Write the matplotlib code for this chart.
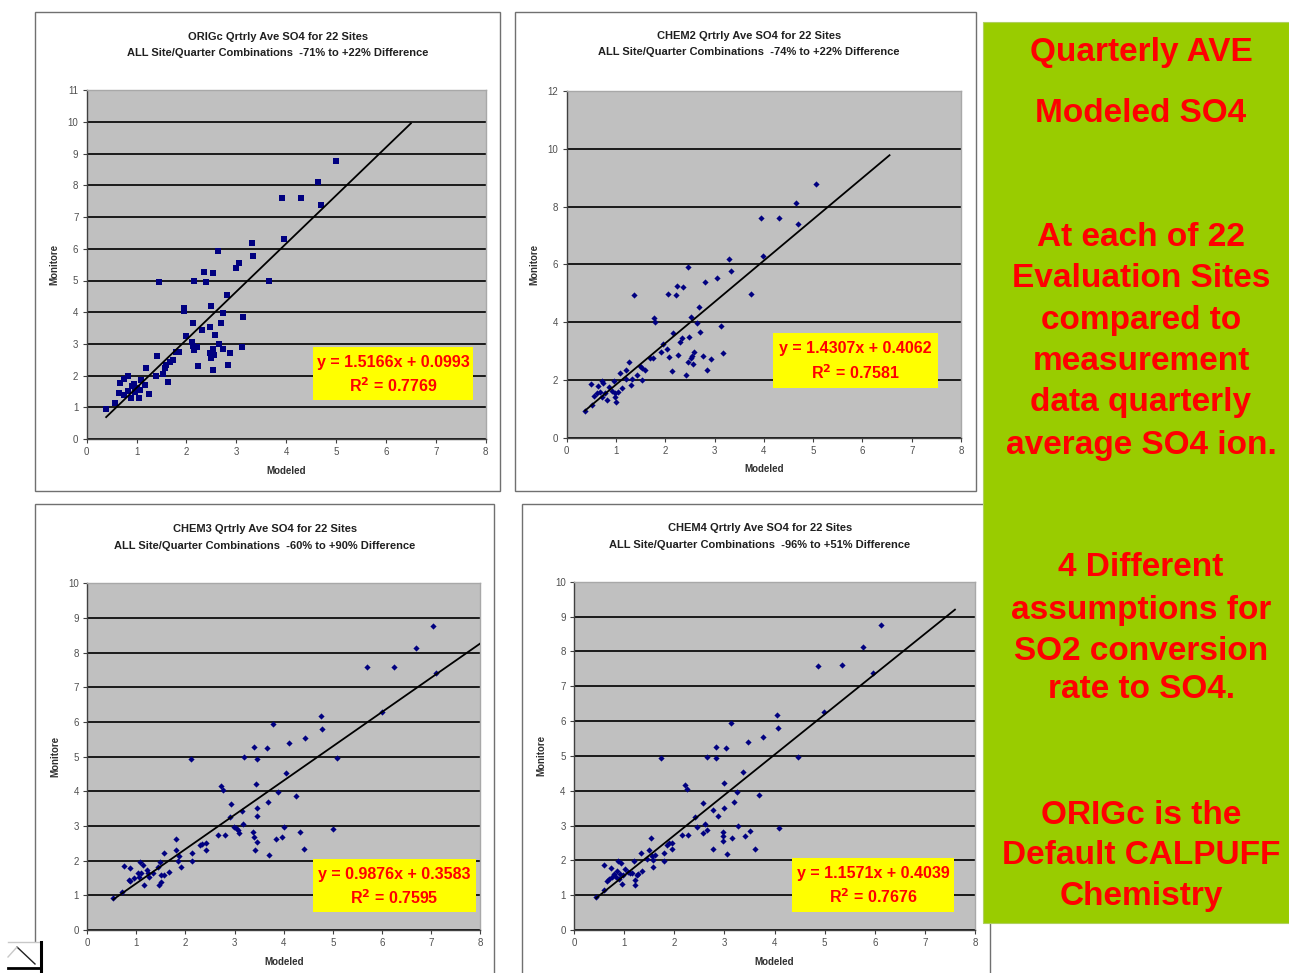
import matplotlib
matplotlib.use("Agg")
import matplotlib.pyplot as plt
from matplotlib.patches import Rectangle
from matplotlib.lines import Line2D
import numpy as np

plt.rcParams['font.family'] = ['Liberation Sans', 'DejaVu Sans']

# ---------------- data ----------------
titles = [
    ("ORIGc Qrtrly Ave SO4 for 22 Sites", "ALL Site/Quarter Combinations  -71% to +22% Difference"),
    ("CHEM2 Qrtrly Ave SO4 for 22 Sites", "ALL Site/Quarter Combinations  -74% to +22% Difference"),
    ("CHEM3 Qrtrly Ave SO4 for 22 Sites", "ALL Site/Quarter Combinations  -60% to +90% Difference"),
    ("CHEM4 Qrtrly Ave SO4 for 22 Sites", "ALL Site/Quarter Combinations  -96% to +51% Difference"),
]

origc_x = [0.38, 0.57, 0.65, 0.67, 0.74, 0.82, 0.74, 0.82, 0.90, 0.94, 0.89, 0.97, 1.00, 1.05, 1.07,
           1.09, 1.17, 1.18, 1.24, 1.40, 1.38, 1.45, 1.52, 1.56, 1.58, 1.64, 1.67, 1.74, 1.80, 1.85,
           1.95, 1.95, 1.99, 2.12, 2.14, 2.15, 2.14, 2.16, 2.21, 2.24, 2.31, 2.35, 2.39, 2.47, 2.47,
           2.49, 2.50, 2.53, 2.53, 2.54, 2.55, 2.57, 2.63, 2.65, 2.69, 2.74, 2.74, 2.82, 2.84, 2.87,
           3.00, 3.05, 3.11, 3.13, 3.31, 3.34, 3.66, 3.92, 3.95, 4.30, 4.63, 4.69, 5.00]
origc_y = [0.95, 1.15, 1.46, 1.78, 1.88, 1.99, 1.39, 1.51, 1.67, 1.73, 1.30, 1.49, 1.60, 1.30, 1.55,
           1.86, 1.70, 2.23, 1.42, 2.63, 1.99, 4.94, 2.05, 2.23, 2.33, 1.81, 2.44, 2.49, 2.75, 2.73,
           4.14, 4.04, 3.26, 3.05, 2.94, 2.81, 3.65, 4.98, 2.89, 2.30, 3.44, 5.26, 4.94, 3.53, 2.70,
           2.54, 4.21, 5.25, 2.83, 2.18, 2.65, 3.28, 5.93, 3.00, 3.67, 2.83, 3.96, 4.54, 2.33, 2.70,
           5.40, 5.56, 2.91, 3.86, 6.17, 5.78, 4.98, 7.59, 6.30, 7.59, 8.12, 7.38, 8.77]

chem2_x = [0.37, 0.51, 0.49, 0.55, 0.61, 0.64, 0.68, 0.72, 0.74, 0.71, 0.78, 0.82, 0.86, 0.91, 0.96,
           0.98, 0.99, 1.01, 1.05, 1.09, 1.13, 1.20, 1.21, 1.26, 1.30, 1.32, 1.37, 1.42, 1.49, 1.52,
           1.53, 1.59, 1.69, 1.76, 1.78, 1.79, 1.91, 1.95, 2.04, 2.06, 2.08, 2.14, 2.16, 2.22, 2.23,
           2.26, 2.29, 2.33, 2.35, 2.43, 2.46, 2.47, 2.49, 2.52, 2.52, 2.55, 2.56, 2.58, 2.64, 2.69,
           2.71, 2.76, 2.81, 2.84, 2.93, 3.04, 3.13, 3.18, 3.30, 3.33, 3.73, 3.94, 3.98, 4.31, 4.65,
           4.69, 5.05]
chem2_y = [0.93, 1.13, 1.86, 1.44, 1.53, 1.79, 1.59, 1.97, 1.90, 1.42, 1.53, 1.30, 1.76, 1.63, 1.96,
           1.53, 1.42, 1.25, 1.59, 2.23, 1.71, 2.34, 2.02, 2.63, 1.82, 2.02, 4.94, 2.17, 2.48, 2.00,
           2.40, 2.34, 2.75, 2.75, 4.13, 4.01, 2.98, 3.26, 3.06, 4.96, 2.78, 2.32, 3.64, 4.94, 5.26,
           2.86, 3.30, 3.44, 5.22, 2.17, 5.92, 2.63, 3.49, 4.19, 2.75, 2.83, 2.54, 2.98, 3.98, 4.53,
           3.67, 2.83, 5.40, 2.34, 2.71, 5.54, 3.86, 2.92, 6.17, 5.78, 4.96, 7.59, 6.30, 7.61, 8.13,
           7.39, 8.77]

chem3_x = [0.52, 0.71, 0.75, 0.84, 0.87, 0.86, 0.96, 1.03, 1.05, 1.07, 1.09, 1.14, 1.16, 1.21, 1.24,
           1.26, 1.34, 1.45, 1.46, 1.48, 1.50, 1.50, 1.56, 1.56, 1.67, 1.80, 1.80, 1.84, 1.87, 1.90,
           2.11, 2.13, 2.14, 2.30, 2.33, 2.41, 2.42, 2.67, 2.72, 2.76, 2.81, 2.91, 2.93, 2.99, 3.03,
           3.06, 3.09, 3.16, 3.18, 3.19, 3.37, 3.39, 3.40, 3.42, 3.44, 3.45, 3.46, 3.46, 3.46, 3.67,
           3.68, 3.71, 3.78, 3.84, 3.89, 3.96, 4.01, 4.04, 4.11, 4.25, 4.33, 4.41, 4.44, 4.77, 4.79,
           5.01, 5.08, 5.69, 6.01, 6.25, 6.69, 7.04, 7.10]
chem3_y = [0.91, 1.11, 1.86, 1.44, 1.78, 1.42, 1.49, 1.63, 1.54, 1.97, 1.63, 1.88, 1.30, 1.73, 1.63,
           1.54, 1.63, 1.83, 1.30, 1.97, 1.39, 1.59, 1.59, 2.23, 1.68, 2.63, 2.31, 2.00, 2.14, 1.83,
           4.93, 2.00, 2.23, 2.45, 2.48, 2.50, 2.31, 2.74, 4.15, 4.04, 2.74, 3.25, 3.63, 2.98, 2.93,
           2.87, 2.79, 3.44, 3.06, 4.98, 2.84, 2.69, 5.27, 2.31, 4.20, 3.53, 2.55, 3.29, 4.93, 5.24,
           3.68, 2.16, 5.93, 2.63, 3.97, 2.69, 2.98, 4.54, 5.40, 3.87, 2.82, 2.33, 5.55, 6.17, 5.79,
           2.90, 4.95, 7.60, 6.30, 7.60, 8.14, 8.77, 7.40]

chem4_x = [0.43, 0.60, 0.60, 0.65, 0.70, 0.73, 0.76, 0.80, 0.83, 0.85, 0.88, 0.90, 0.92, 0.94, 0.95,
           0.98, 1.02, 1.07, 1.12, 1.16, 1.20, 1.22, 1.22, 1.25, 1.28, 1.33, 1.35, 1.45, 1.50, 1.54,
           1.55, 1.57, 1.58, 1.62, 1.74, 1.80, 1.80, 1.85, 1.89, 1.95, 1.96, 2.16, 2.22, 2.26, 2.27,
           2.41, 2.45, 2.57, 2.58, 2.61, 2.65, 2.65, 2.77, 2.78, 2.83, 2.83, 2.87, 2.97, 2.97, 2.97,
           3.00, 3.00, 3.03, 3.05, 3.14, 3.15, 3.20, 3.26, 3.28, 3.38, 3.41, 3.48, 3.52, 3.61, 3.70,
           3.78, 4.04, 4.06, 4.08, 4.46, 4.87, 4.99, 5.35, 5.77, 5.96, 6.12]
chem4_y = [0.94, 1.15, 1.87, 1.42, 1.45, 1.77, 1.51, 1.61, 1.53, 1.70, 1.99, 1.45, 1.61, 1.91, 1.31,
           1.58, 1.74, 1.67, 1.63, 1.63, 1.99, 1.44, 1.29, 1.58, 1.61, 2.22, 1.70, 2.03, 2.30, 2.65,
           2.12, 1.82, 2.01, 2.15, 4.95, 2.22, 1.99, 2.44, 2.49, 2.32, 2.49, 2.73, 4.16, 4.05, 2.73,
           3.25, 2.95, 3.66, 2.79, 3.04, 2.87, 4.96, 3.44, 2.32, 5.26, 4.95, 3.28, 2.82, 2.71, 2.56,
           3.51, 4.21, 5.23, 2.18, 5.93, 2.65, 3.67, 3.97, 2.99, 4.55, 2.71, 5.39, 2.84, 2.33, 3.88,
           5.55, 6.17, 5.79, 2.92, 4.98, 7.58, 6.27, 7.61, 8.13, 7.37, 8.76]

series_x = [origc_x, chem2_x, chem3_x, chem4_x]
series_y = [origc_y, chem2_y, chem3_y, chem4_y]

slopes = [1.5166, 1.4307, 0.9876, 1.1571]
intercepts = [0.0993, 0.4062, 0.3583, 0.4039]
r2_values = [0.7769, 0.7581, 0.7595, 0.7676]
trend_x_start = [0.39, 0.37, 0.53, 0.44]
trend_x_end = [6.50, 6.55, 8.00, 7.60]

y_max = [11, 12, 10, 10]
y_step = [1, 2, 1, 1]
x_max = 8
markers = ['s', 'D', 'D', 'D']
marker_sizes = [14, 10, 10, 10]

side_lines = ["Quarterly AVE", "Modeled SO4", "At each of 22", "Evaluation Sites", "compared to",
              "measurement", "data quarterly", "average SO4 ion.", "4 Different",
              "assumptions for", "SO2 conversion", "rate to SO4.", "ORIGc is the",
              "Default CALPUFF", "Chemistry"]

# ---------------- layout (pixels) ----------------
W, H = 1289, 973
fig = plt.figure(figsize=(W / 100, H / 100), dpi=100)
fig.patch.set_facecolor('white')


def fx(x):
    return x / W


def fy(y):
    return 1 - y / H


def rect(x0, y0, x1, y1):
    return [fx(x0), fy(y1), (x1 - x0) / W, (y1 - y0) / H]


frames = [(35, 12, 500, 491), (515, 12, 976, 491), (35, 504, 494, 990), (522, 504, 990, 990)]
axes_px = [(86.7, 90.3, 485.7, 439.0), (566.7, 91.0, 961.0, 437.7),
           (87.3, 583.3, 480.0, 930.0), (574.0, 581.7, 975.0, 930.0)]
title_pos = [(278, 37, 53), (749, 36, 52), (265, 529, 546), (760, 528, 545)]
eq_boxes = [(313, 347, 473, 400), (773, 333, 938, 388), (313, 859, 476, 912), (792, 858, 954, 912)]

# chart frames
for (x0, y0, x1, y1) in frames:
    fig.patches.append(Rectangle((fx(x0), fy(y1)), (x1 - x0) / W, (y1 - y0) / H,
                                 transform=fig.transFigure, fill=False,
                                 edgecolor='#707070', linewidth=1.0, zorder=0))

for i in range(4):
    ax = fig.add_axes(rect(*axes_px[i]))
    ax.set_facecolor('#C0C0C0')
    ax.set_xlim(0, x_max)
    ax.set_ylim(0, y_max[i])
    ax.set_xticks(np.arange(0, x_max + 1, 1))
    ax.set_yticks(np.arange(0, y_max[i] + 1, y_step[i]))
    ax.yaxis.grid(True, color='#1A1A1A', linewidth=1.4)
    ax.xaxis.grid(False)
    ax.set_axisbelow(True)
    for s in ['top', 'right']:
        ax.spines[s].set_color('#A8A8A8')
        ax.spines[s].set_linewidth(1.0)
    for s in ['left', 'bottom']:
        ax.spines[s].set_color('#404040')
        ax.spines[s].set_linewidth(1.0)
    ax.tick_params(direction='out', length=3, width=0.8, color='#404040',
                   labelsize=7, labelcolor='#505050', pad=3)

    ax.scatter(series_x[i], series_y[i], marker=markers[i], s=marker_sizes[i],
               color='#000080', linewidths=0, zorder=3)

    tx = np.array([trend_x_start[i], trend_x_end[i]])
    ax.plot(tx, slopes[i] * tx + intercepts[i], color='black', linewidth=1.3, zorder=4)

    ax.set_xlabel("Modeled", fontsize=7, fontweight='bold', color='#303030')
    ax.set_ylabel("Monitore", fontsize=7, fontweight='bold', color='#303030')
    ax.xaxis.set_label_coords(0.5, -0.077)
    ax.yaxis.set_label_coords(-0.069, 0.5)

    # titles
    cx, y1, y2 = title_pos[i]
    fig.text(fx(cx), fy(y1), titles[i][0], ha='center', va='center', fontsize=8,
             fontweight='bold', color='#202020')
    fig.text(fx(cx), fy(y2), titles[i][1], ha='center', va='center', fontsize=8,
             fontweight='bold', color='#202020')

    # equation box
    bx0, by0, bx1, by1 = eq_boxes[i]
    fig.patches.append(Rectangle((fx(bx0), fy(by1)), (bx1 - bx0) / W, (by1 - by0) / H,
                                 transform=fig.transFigure, facecolor='#FFFF00',
                                 edgecolor='none', zorder=5))
    bh = by1 - by0
    fig.text(fx((bx0 + bx1) / 2), fy(by0 + 0.29 * bh),
             f"y = {slopes[i]:.4f}x + {intercepts[i]:.4f}", ha='center', va='center',
             fontsize=11.5, fontweight='bold', color='#FF0000', zorder=6)
    fig.text(fx((bx0 + bx1) / 2), fy(by0 + 0.72 * bh),
             f"R$^\\mathbf{{2}}$ = {r2_values[i]:.4f}", ha='center', va='center',
             fontsize=11.5, fontweight='bold', color='#FF0000', zorder=6)

# green side panel
fig.patches.append(Rectangle((fx(983), fy(923)), (1289 - 983) / W, (923 - 22) / H,
                             transform=fig.transFigure, facecolor='#99CC00',
                             edgecolor='#B0D060', linewidth=0.8, zorder=7))
side_y = [52, 113, 237, 279, 320, 362, 403, 445, 567, 610, 651, 690, 815, 855, 896]
for txt, yy in zip(side_lines, side_y):
    fig.text(fx(1141), fy(yy), txt, ha='center', va='center', fontsize=24,
             fontweight='bold', color='#FF0000', zorder=8)

# small icon bottom-left
fig.patches.append(Rectangle((fx(5), fy(973)), 38 / W, 31 / H, transform=fig.transFigure,
                             facecolor='white', edgecolor='none', zorder=9))
icon_lines = [
    ([8, 41], [942, 942], '#C8C8C8', 1.0),
    ([41, 41], [942, 972], 'black', 2.2),
    ([8, 41], [968, 968], 'black', 2.0),
    ([17, 35], [947, 964], '#202020', 1.0),
    ([8, 17], [957, 947], '#C8C8C8', 1.0),
]
for xs, ys, c, lw in icon_lines:
    fig.lines.append(Line2D([fx(v) for v in xs], [fy(v) for v in ys],
                            transform=fig.transFigure, color=c, linewidth=lw, zorder=10))

fig.savefig("out.png", dpi=100)
